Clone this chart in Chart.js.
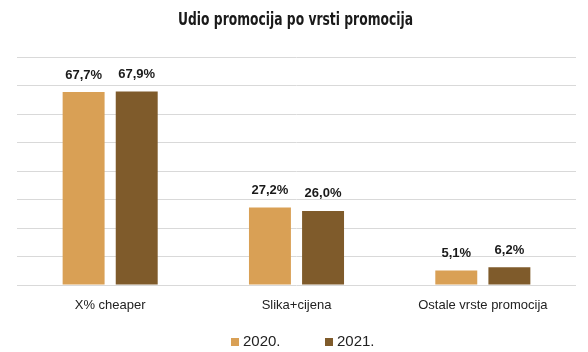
<!DOCTYPE html>
<html>
<head>
<meta charset="utf-8">
<script src="https://cdn.jsdelivr.net/npm/chart.js@4"></script>
<style>
  html, body { margin: 0; padding: 0; background: #ffffff; }
  #c { display: block; }
</style>
</head>
<body>
<canvas id="c" width="588" height="352"></canvas>
<script>
// ---- data ----
const categories = ['X% cheaper', 'Slika+cijena', 'Ostale vrste promocija'];
const seriesNames = ['2020.', '2021.'];
const values2020 = [67.7, 27.2, 5.1];
const values2021 = [67.9, 26.0, 6.2];
const yTicks = [0, 10, 20, 30, 40, 50, 60, 70, 80];

const colors = ['#D9A055', '#7F5B2B'];

// legend square as canvas point style (square sits at right edge)
const BOX_W = 29;
function squareStyle(color) {
  const c = document.createElement('canvas');
  c.width = BOX_W + 7; c.height = 8;
  const g = c.getContext('2d');
  g.fillStyle = color;
  g.fillRect(c.width - 8, 0, 8, 8);
  return c;
}
const legendStyles = colors.map(squareStyle);

const fmt = v => v.toFixed(1).replace('.', ',') + '%';

const valueLabels = {
  id: 'valueLabels',
  afterDatasetsDraw(chart) {
    const ctx = chart.ctx;
    ctx.save();
    ctx.font = 'bold 13px "Liberation Sans", Arial, sans-serif';
    ctx.fillStyle = '#1a1a1a';
    ctx.textAlign = 'center';
    ctx.textBaseline = 'middle';
    chart.data.datasets.forEach((ds, i) => {
      chart.getDatasetMeta(i).data.forEach((bar, j) => {
        ctx.fillText(fmt(ds.data[j]), bar.x, bar.y - 17);
      });
    });
    ctx.restore();
  }
};

// narrow the title (condensed look) around its target centre
const TITLE_FONT = "bold 18px 'DejaVu Sans Condensed', sans-serif";
const titleNarrow = {
  id: 'titleNarrow',
  afterLayout(chart) {
    const tb = chart.titleBlock;
    if (!tb || tb._wrapped) return;
    tb._wrapped = true;
    const orig = tb.draw;
    tb.draw = function (...args) {
      const ctx = this.ctx;
      ctx.save();
      ctx.font = TITLE_FONT;
      const w = ctx.measureText(this.options.text).width;
      const s = 235 / w;
      const cx = (this.left + this.right) / 2;
      ctx.translate(295.5, 0);
      ctx.scale(s, 1);
      ctx.translate(-cx, 0);
      orig.apply(this, args);
      ctx.restore();
    };
  }
};

new Chart(document.getElementById('c'), {
  type: 'bar',
  data: {
    labels: categories,
    datasets: [
      { label: seriesNames[0], data: values2020, backgroundColor: colors[0], categoryPercentage: 0.57, barPercentage: 0.79 },
      { label: seriesNames[1], data: values2021, backgroundColor: colors[1], categoryPercentage: 0.57, barPercentage: 0.79 }
    ]
  },
  options: {
    responsive: false,
    animation: false,
    layout: { padding: { left: 5, right: 12, top: 0, bottom: -7.5 } },
    plugins: {
      title: {
        display: true,
        text: 'Udio promocija po vrsti promocija',
        color: '#1a1a1a',
        font: { family: "'DejaVu Sans Condensed', sans-serif", size: 18, weight: 'bold' },
        padding: { top: 9.2, bottom: 26.2 }
      },
      legend: {
        position: 'bottom',
        labels: {
          usePointStyle: true,
          pointStyleWidth: BOX_W,
          padding: 20,
          color: '#222222',
          font: { family: "'Liberation Sans', Arial, sans-serif", size: 15 },
          generateLabels(chart) {
            const items = Chart.defaults.plugins.legend.labels.generateLabels(chart);
            items.forEach((it, i) => { it.pointStyle = legendStyles[i]; });
            return items;
          }
        }
      },
      tooltip: { enabled: false }
    },
    scales: {
      x: {
        grid: { display: false, drawTicks: false },
        border: { display: false },
        ticks: { padding: 13, color: '#222222', font: { family: "'Liberation Sans', Arial, sans-serif", size: 13 } },
        afterFit(scale) { scale.height = 29.5; }
      },
      y: {
        min: 0,
        max: yTicks[yTicks.length - 1],
        afterBuildTicks(scale) { scale.ticks = yTicks.map(v => ({ value: v })); },
        grid: { color: '#d9d9d9', lineWidth: 1, drawTicks: false },
        border: { display: false },
        ticks: { display: false },
        afterFit(scale) { scale.width = 12; }
      }
    }
  },
  plugins: [valueLabels, titleNarrow]
});
</script>
</body>
</html>
